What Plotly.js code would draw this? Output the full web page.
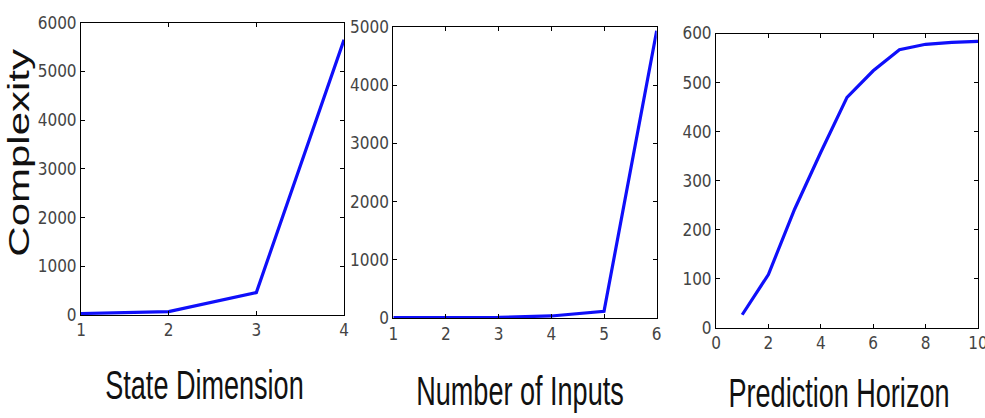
<!DOCTYPE html>
<html>
<head>
<meta charset="utf-8">
<script src="https://cdn.plot.ly/plotly-3.0.1.min.js"></script>
<style>html,body{margin:0;padding:0;background:#fff;}#chart{width:985px;height:418px;}</style>
</head>
<body>
<div id="chart"></div>
<script>
// ---- data ----
const stateDim = [1, 2, 3, 4];
const stateComplexity = [30, 70, 460, 5650];

const numInputs = [1, 2, 3, 4, 5, 6];
const inputComplexity = [10, 10, 15, 40, 120, 4930];

const horizon = [1, 2, 3, 4, 5, 6, 7, 8, 9, 10];
const horizonComplexity = [27, 109, 242, 358, 470, 524, 567, 578, 582, 584];

const yTitle = "Complexity";
const xTitles = ["State Dimension", "Number of Inputs", "Prediction Horizon"];

// ---- style ----
const W = 985, H = 418;
const lineStyle = {color: "rgb(15,15,250)", width: 3.2};
const tickFont = {family: "Liberation Sans Narrow, DejaVu Sans Condensed, Arial Narrow, sans-serif", size: 17, color: "#444"};
const titleFont = {family: "Liberation Sans, Arial, Helvetica, sans-serif", size: 41, color: "#111"};

function px(a, b) { return [a / W, b / W]; }
function py(top, bottom) { return [(H - bottom) / H, (H - top) / H]; }

function axisBase(extra) {
  return Object.assign({
    showline: true, linecolor: "#000", linewidth: 1, mirror: "ticks",
    ticks: "inside", ticklen: 4, tickcolor: "#000", tickwidth: 1,
    showgrid: false, zeroline: false, tickfont: tickFont, fixedrange: true,
    ticklabeloverflow: "allow"
  }, extra);
}

const traces = [
  {x: stateDim, y: stateComplexity, xaxis: "x", yaxis: "y", mode: "lines", line: lineStyle, hoverinfo: "none"},
  {x: numInputs, y: inputComplexity, xaxis: "x2", yaxis: "y2", mode: "lines", line: lineStyle, hoverinfo: "none"},
  {x: horizon, y: horizonComplexity, xaxis: "x3", yaxis: "y3", mode: "lines", line: lineStyle, hoverinfo: "none"}
];

const layout = {
  width: W, height: H,
  margin: {l: 0, r: 0, t: 0, b: 0},
  paper_bgcolor: "#fff", plot_bgcolor: "#fff",
  showlegend: false,
  xaxis: axisBase({domain: px(81, 344), range: [1, 4], dtick: 1, tick0: 1, anchor: "y",
    title: {text: xTitles[0], font: titleFont, standoff: 30}}),
  yaxis: axisBase({domain: py(22.7, 315), range: [0, 6000], dtick: 1000, anchor: "x",
    title: {text: yTitle, font: {family: titleFont.family, size: 30, color: "#111"}, standoff: 2}}),
  xaxis2: axisBase({domain: px(393.3, 656.7), range: [1, 6], dtick: 1, tick0: 1, anchor: "y2",
    title: {text: xTitles[1], font: titleFont, standoff: 33}}),
  yaxis2: axisBase({domain: py(26.7, 318.3), range: [0, 5000], dtick: 1000, anchor: "x2"}),
  xaxis3: axisBase({domain: px(716, 978), range: [0, 10.0001], tickvals: [0, 2, 4, 6, 8, 10], anchor: "y3",
    title: {text: xTitles[2], font: titleFont, standoff: 25}}),
  yaxis3: axisBase({domain: py(33.5, 328), range: [0, 600], dtick: 100, anchor: "x3"})
};

const xShift = {xtitle: -8, x2title: -5, x3title: -8};

Plotly.newPlot("chart", traces, layout, {displayModeBar: false, staticPlot: true}).then(function (gd) {
  // squeeze horizontal titles / stretch the vertical one to mimic the reference's aspect
  Object.keys(xShift).forEach(function (cls) {
    gd.querySelectorAll("." + cls).forEach(function (t) {
      const x = +t.getAttribute("x");
      const prev = t.getAttribute("transform") || "";
      t.setAttribute("transform", "translate(" + (x + xShift[cls]) + ",0) scale(0.66,1) translate(" + (-x) + ",0) " + prev);
    });
  });
  gd.querySelectorAll(".ytitle").forEach(function (t) {
    const y = +t.getAttribute("y");
    const prev = t.getAttribute("transform") || "";
    t.setAttribute("transform", "translate(2," + (y - 16) + ") scale(1,1.4) translate(0," + (-y) + ") " + prev);
  });
});
</script>
</body>
</html>
